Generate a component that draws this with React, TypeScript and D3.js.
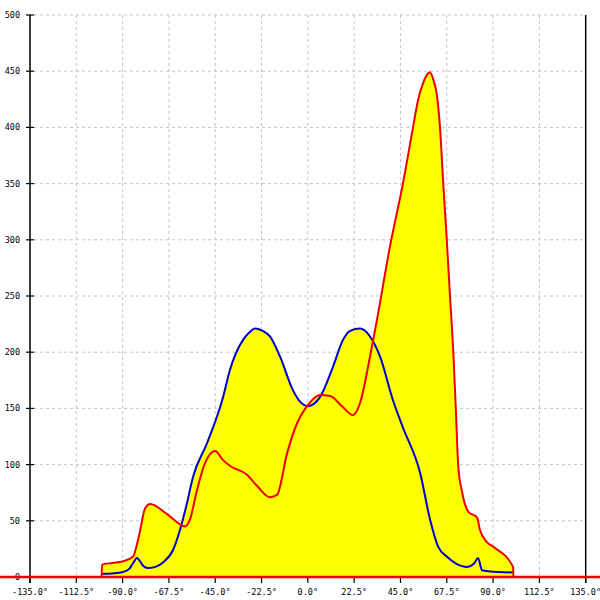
import React from "react";
import * as d3 from "d3";

const xTicks = [-135, -112.5, -90, -67.5, -45, -22.5, 0, 22.5, 45, 67.5, 90, 112.5, 135];
const yTicks = [0, 50, 100, 150, 200, 250, 300, 350, 400, 450, 500];

const blueAngles = [-100, -97, -93, -89.8, -86.9, -85, -83, -81.5, -80.1, -77.7, -74, -70.4, -65.5, -62.1, -58.7, -55.8, -49, -41.2, -37.9, -31.5, -28.2, -25.7, -22, -18.4, -13.5, -7.2, -3.8, 0, 5.9, 12.2, 17.1, 20.5, 25.4, 30.2, 35.1, 41.4, 46.2, 54.5, 59.4, 63.3, 67.6, 72, 77.4, 80.8, 82.7, 84.6, 88.5, 99.7];
const blueValues = [3, 3, 3.5, 4.5, 7, 12, 17, 14, 10, 8, 9, 13, 24, 42, 66, 89, 119, 160, 184, 211, 218, 221, 219, 214, 196, 166, 156, 152, 160, 187, 211, 219, 221, 214, 196, 157, 133, 93, 51, 27, 18, 12, 9, 12, 17, 6, 5, 4];

const redAngles = [-100.2, -100, -95, -89.8, -85, -82, -79.1, -76.7, -68.4, -59.7, -57.3, -53.9, -50, -45.1, -41.2, -37.9, -29.6, -24.2, -18.4, -15, -10.1, -5.2, -0.4, 5.9, 10.8, 17.1, 21.9, 25.4, 30.2, 33.6, 39.9, 46.2, 51.1, 53.5, 55.9, 57.6, 59.3, 61.2, 62.6, 64.2, 65.8, 67.5, 69.1, 70.7, 71.9, 73.1, 74.8, 78, 82.2, 83.6, 87, 90, 99.7, 99.9];
const redValues = [0, 11, 12.5, 14, 18, 37, 61, 65, 56, 45, 51, 77, 101, 112, 104, 99, 91, 80, 71, 73, 110, 137, 152, 162, 161, 151, 144, 155, 196, 229, 294, 350, 400, 424, 439, 446, 449, 441, 430, 400, 350, 300, 249, 199, 149, 98, 77, 58, 53, 42, 31, 27, 9, 0];

export default function App() {
  const W = 600, H = 600;
  const x = d3.scaleLinear().domain([-135, 135]).range([30, 585.7]);
  const y = d3.scaleLinear().domain([0, 500]).range([577, 15]);

  const blue = blueAngles.map((a, i) => [a, blueValues[i]] as [number, number]);
  const red = redAngles.map((a, i) => [a, redValues[i]] as [number, number]);

  const area = d3.area<[number, number]>()
    .x(d => x(d[0]))
    .y0(y(0))
    .y1(d => y(d[1]))
    .curve(d3.curveMonotoneX);
  const line = d3.line<[number, number]>()
    .x(d => x(d[0]))
    .y(d => y(d[1]))
    .curve(d3.curveMonotoneX);

  const x0 = x(-135), x1 = x(135);
  const yTop = y(500), yBase = y(0);
  const font = "'DejaVu Sans Mono', monospace";

  return (
    <svg width={W} height={H} style={{ position: "fixed", left: 0, top: 0, background: "#fff" }}>
      <rect x={0} y={0} width={W} height={H} fill="#fff" />
      {xTicks.filter(t => t !== -135 && t !== 135).map(t => (
        <line key={"gx" + t} x1={x(t)} x2={x(t)} y1={yTop} y2={yBase} stroke="#c4c4c4" strokeDasharray="3,3" strokeWidth={1} />
      ))}
      {yTicks.filter(t => t !== 0).map(t => (
        <line key={"gy" + t} x1={x0 + 4} x2={x1 - 2} y1={y(t)} y2={y(t)} stroke="#c4c4c4" strokeDasharray="3,3" strokeWidth={1} />
      ))}
      <path d={area(blue) || ""} fill="#ffff00" />
      <path d={area(red) || ""} fill="#ffff00" />
      <line x1={x0} x2={x0} y1={yTop} y2={yBase + 6} stroke="#000" strokeWidth={1.5} />
      <line x1={x1} x2={x1} y1={yTop} y2={yBase + 6} stroke="#000" strokeWidth={1.5} />
      {yTicks.map(t => (
        <g key={"ty" + t}>
          <line x1={x0 - 4} x2={x0 + 4} y1={y(t)} y2={y(t)} stroke="#000" strokeWidth={1.2} />
          <text x={20} y={y(t)} dy="0.35em" textAnchor="end" fontFamily={font} fontSize={8.5} fill="#000">{t}</text>
        </g>
      ))}
      {xTicks.map(t => (
        <g key={"tx" + t}>
          <line x1={x(t)} x2={x(t)} y1={yBase} y2={yBase + 6} stroke="#000" strokeWidth={1.2} />
          <text x={x(t)} y={592} dy="0.35em" textAnchor="middle" fontFamily={font} fontSize={8.5} fill="#000">{t.toFixed(1) + "°"}</text>
        </g>
      ))}
      <path d={line(blue) || ""} fill="none" stroke="#0000cc" strokeWidth={2} strokeLinejoin="round" />
      <line x1={0} x2={W} y1={yBase} y2={yBase} stroke="#ee0000" strokeWidth={2.5} />
      <path d={line(red) || ""} fill="none" stroke="#ee0000" strokeWidth={2} strokeLinejoin="round" />
    </svg>
  );
}
